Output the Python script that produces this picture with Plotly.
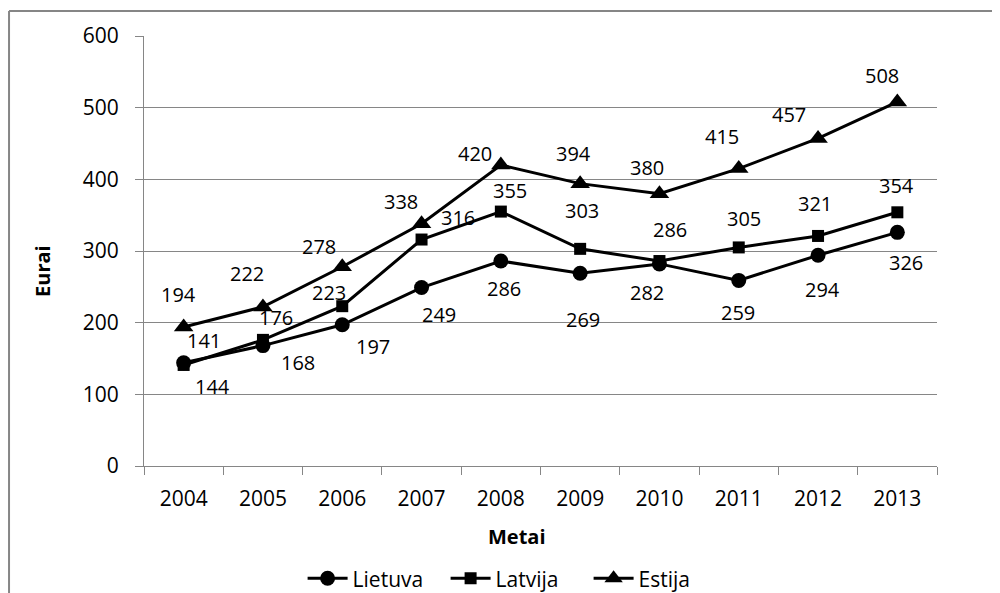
import plotly.graph_objects as go

years = [2004, 2005, 2006, 2007, 2008, 2009, 2010, 2011, 2012, 2013]
lietuva = [144, 168, 197, 249, 286, 269, 282, 259, 294, 326]
latvija = [141, 176, 223, 316, 355, 303, 286, 305, 321, 354]
estija = [194, 222, 278, 338, 420, 394, 380, 415, 457, 508]

# label offsets in pixels (dx right, dy down) relative to the marker
lt_off = [(29, 24), (35, 17), (31, 22), (17, 27), (3, 27), (3, 46), (-12, 29), (-1, 32), (4, 34), (9, 30)]
lv_off = [(20, -24), (13, -22), (-13, -14), (36, -22), (9, -21), (2, -38), (11, -32), (5, -29), (-3, -32), (-1, -27)]
ee_off = [(-5, -32), (-16, -33), (-23, -20), (-21, -22), (-26, -12), (-7, -30), (-12, -26), (-17, -32), (-29, -24), (-15, -26)]

FONT = "Open Sans"
GRID = "#868686"

fig = go.Figure()
series = [
    ("Lietuva", lietuva, "circle", 15, lt_off),
    ("Latvija", latvija, "square", 12, lv_off),
    ("Estija", estija, "triangle-up", 17, ee_off),
]
annotations = []
for name, vals, sym, size, offs in series:
    fig.add_trace(go.Scatter(
        x=years, y=vals, name=name, mode="lines+markers",
        line=dict(color="black", width=3),
        marker=dict(symbol=sym, size=size, color="black"),
    ))
    for xv, yv, (dx, dy) in zip(years, vals, offs):
        annotations.append(dict(
            x=xv, y=yv, xref="x", yref="y", text=str(yv), showarrow=False,
            xanchor="center", yanchor="middle",
            xshift=dx, yshift=-dy, font=dict(family=FONT, size=20, color="black"),
        ))

annotations.append(dict(
    x=-0.1274, y=0.4535, xref="paper", yref="paper", text="<b>Eurai</b>",
    xanchor="center", yanchor="middle",
    textangle=-90, showarrow=False, font=dict(family=FONT, size=20, color="black"),
))
annotations.append(dict(
    x=0.4704, y=-0.165, xref="paper", yref="paper", text="<b>Metai</b>",
    xanchor="center", yanchor="middle",
    showarrow=False, font=dict(family=FONT, size=20, color="black"),
))

fig.update_layout(
    width=992, height=585,
    margin=dict(l=136, r=63, t=28, b=127, autoexpand=False),
    paper_bgcolor="white", plot_bgcolor="white",
    font=dict(family=FONT, size=21, color="black"),
    showlegend=True,
    legend=dict(orientation="h", x=0.2, xanchor="left", y=-0.262, yanchor="middle",
                itemwidth=40, entrywidth=88, entrywidthmode="pixels",
                font=dict(family=FONT, size=21, color="black"), bgcolor="rgba(0,0,0,0)"),
    annotations=annotations,
    shapes=[
        dict(type="line", xref="paper", yref="paper", x0=-0.1702, x1=-0.1702, y0=-0.6, y1=1.0581,
             line=dict(color=GRID, width=2), layer="below"),
        dict(type="line", xref="paper", yref="paper", x0=-0.1702, x1=1.3, y0=1.0581, y1=1.0581,
             line=dict(color=GRID, width=2), layer="below"),
    ],
)
fig.update_xaxes(
    range=[years[0] - 0.5, years[-1] + 0.5], tickmode="linear", tick0=years[0], dtick=1,
    tickformat="d", ticks="",
    minor=dict(tick0=years[0] - 0.5, dtick=1, ticks="outside", ticklen=8, tickcolor=GRID, showgrid=False),
    showline=True, linecolor=GRID, linewidth=1, showgrid=False, zeroline=False,
    tickfont=dict(family=FONT, size=21, color="black"), ticklabelstandoff=14,
)
fig.update_yaxes(
    range=[0, 600], dtick=100, ticks="outside", ticklen=8, tickcolor=GRID,
    showline=True, linecolor=GRID, linewidth=1, showgrid=True, gridcolor=GRID, gridwidth=1,
    zeroline=False, tickfont=dict(family=FONT, size=21, color="black"), ticklabelstandoff=12,
)

fig.write_html("out.html")
